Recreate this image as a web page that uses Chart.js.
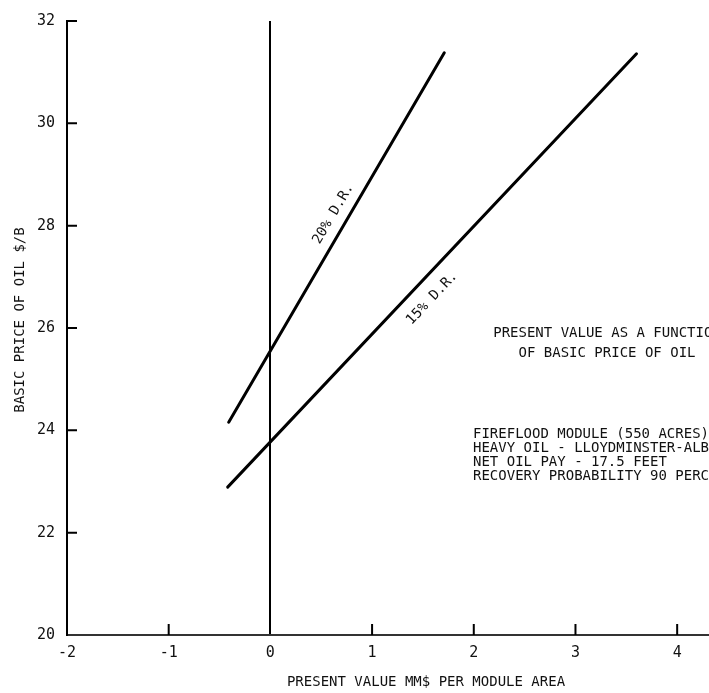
<!DOCTYPE html>
<html>
<head>
<meta charset="utf-8">
<title>Present value as a function of basic price of oil</title>
<script src="https://cdn.jsdelivr.net/npm/chart.js@4.4.1/dist/chart.umd.min.js"></script>
<style>
  html, body { margin: 0; padding: 0; background: #fff; }
  canvas { display: block; }
</style>
</head>
<body>
<canvas id="pvChart" width="709" height="693"></canvas>
<script>
// values
const xTicks = [-2, -1, 0, 1, 2, 3, 4];
const yTicks = [20, 22, 24, 26, 28, 30, 32];
const lineNames = ['20% D.R.', '15% D.R.'];
const dr20X = [-0.41, 1.71];
const dr20Y = [24.16, 31.38];
const dr15X = [-0.42, 3.60];
const dr15Y = [22.89, 31.36];
// where the line names sit (data units)
const nameAtX = [0.62, 1.59];
const nameAtY = [28.23, 26.58];
const titleLines = ['PRESENT VALUE AS A FUNCTION', 'OF BASIC PRICE OF OIL'];
const noteLines = [
  'FIREFLOOD MODULE (550 ACRES)',
  'HEAVY OIL - LLOYDMINSTER-ALBERTA',
  'NET OIL PAY - 17.5 FEET',
  'RECOVERY PROBABILITY 90 PERCENT'
];
const xTitle = 'PRESENT VALUE MM$ PER MODULE AREA';
const yTitle = 'BASIC PRICE OF OIL $/B';

const FONT = "'DejaVu Sans Mono', 'Liberation Mono', monospace";
Chart.defaults.font.family = FONT;
Chart.defaults.font.size = 14;
Chart.defaults.color = '#111';

const toPoints = (xs, ys) => xs.map((v, i) => ({ x: v, y: ys[i] }));
const seriesX = [dr20X, dr15X];
const seriesY = [dr20Y, dr15Y];

// inward ticks, line names and the text blocks
const extras = {
  id: 'extras',
  afterDatasetsDraw(chart) {
    const { ctx, chartArea: a, scales: { x, y } } = chart;
    ctx.save();
    ctx.strokeStyle = '#000';
    ctx.lineWidth = 2;
    ctx.beginPath();
    yTicks.forEach(v => {
      if (v === y.min) return;
      const py = y.getPixelForValue(v);
      ctx.moveTo(a.left, py);
      ctx.lineTo(a.left + 10, py);
    });
    xTicks.forEach(v => {
      if (v === x.min || v === 0) return;
      const px = x.getPixelForValue(v);
      ctx.moveTo(px, a.bottom);
      ctx.lineTo(px, a.bottom - 11);
    });
    ctx.stroke();

    ctx.fillStyle = '#111';
    ctx.font = '14px ' + FONT;
    ctx.textBaseline = 'middle';
    ctx.textAlign = 'center';

    // names along the lines
    lineNames.forEach((name, i) => {
      const xs = seriesX[i], ys = seriesY[i];
      const ang = Math.atan2(
        y.getPixelForValue(ys[1]) - y.getPixelForValue(ys[0]),
        x.getPixelForValue(xs[1]) - x.getPixelForValue(xs[0]));
      ctx.save();
      ctx.translate(x.getPixelForValue(nameAtX[i]), y.getPixelForValue(nameAtY[i]));
      ctx.rotate(ang);
      ctx.fillText(name, 0, 0);
      ctx.restore();
    });

    // title block, centred
    titleLines.forEach((t, i) => ctx.fillText(t, 607, 333 + i * 20));

    // note block, left aligned
    ctx.textAlign = 'left';
    noteLines.forEach((t, i) => ctx.fillText(t, 473, 434 + i * 14));

    // axis titles
    ctx.textAlign = 'center';
    ctx.fillText(xTitle, 426, 682);
    ctx.save();
    ctx.translate(20, 320);
    ctx.rotate(-Math.PI / 2);
    ctx.fillText(yTitle, 0, 0);
    ctx.restore();
    ctx.restore();
  }
};

const ctx = document.getElementById('pvChart').getContext('2d');
const pvChart = new Chart(ctx, {
  type: 'scatter',
  data: {
    datasets: [
      { label: lineNames[0], data: toPoints(dr20X, dr20Y) },
      { label: lineNames[1], data: toPoints(dr15X, dr15Y) }
    ]
  },
  options: {
    responsive: false,
    animation: false,
    devicePixelRatio: 1,
    showLine: true,
    layout: { padding: { top: 20, right: 0, left: 0, bottom: 0 } },
    elements: {
      line: { borderColor: '#000', borderWidth: 3, borderCapStyle: 'round', tension: 0 },
      point: { radius: 0, hoverRadius: 0 }
    },
    plugins: {
      legend: { display: false },
      tooltip: { enabled: false }
    },
    scales: {
      x: {
        type: 'linear',
        min: -2,
        max: 4.313,
        afterBuildTicks: s => { s.ticks = xTicks.map(v => ({ value: v })); },
        afterFit: s => { s.height = 58; },
        ticks: { padding: 9, maxRotation: 0, autoSkip: false, color: '#111', font: { size: 15 } },
        grid: {
          drawTicks: false,
          color: c => (c.tick && c.tick.value === 0 ? '#000' : 'rgba(0,0,0,0)'),
          lineWidth: 2
        },
        border: { display: true, color: '#333', width: 2 }
      },
      y: {
        type: 'linear',
        min: 20,
        max: 32,
        afterBuildTicks: s => { s.ticks = yTicks.map(v => ({ value: v })); },
        afterFit: s => { s.width = 67; },
        ticks: { padding: 12, autoSkip: false, color: '#111', font: { size: 15 } },
        grid: { display: false, drawTicks: false },
        border: { display: true, color: '#000', width: 2 }
      }
    }
  },
  plugins: [extras]
});
</script>
</body>
</html>
